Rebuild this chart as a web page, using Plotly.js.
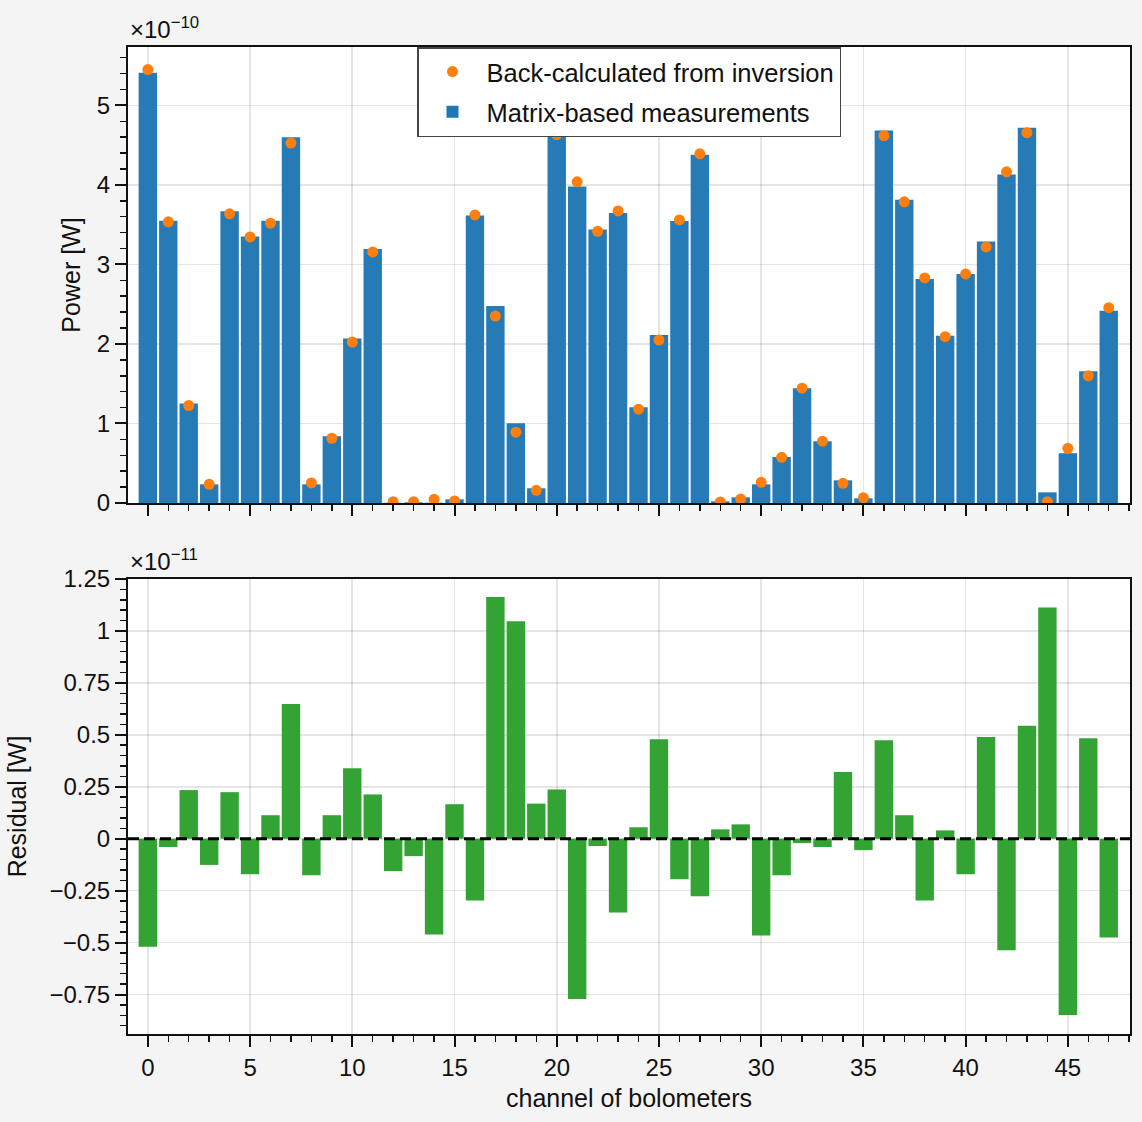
<!DOCTYPE html>
<html>
<head>
<meta charset="utf-8">
<script src="https://cdn.plot.ly/plotly-3.0.1.min.js"></script>
<style>
  html, body { margin: 0; padding: 0; background: #f4f4f4; }
  #chart { width: 1142px; height: 1122px; }
</style>
</head>
<body>
<div id="chart"></div>
<script>
// Bolometer channel indices
const channels = [0, 1, 2, 3, 4, 5, 6, 7, 8, 9, 10, 11, 12, 13, 14, 15,
                  16, 17, 18, 19, 20, 21, 22, 23, 24, 25, 26, 27, 28, 29, 30, 31,
                  32, 33, 34, 35, 36, 37, 38, 39, 40, 41, 42, 43, 44, 45, 46, 47];

// Matrix-based measured power, in units of 1e-10 W
const measuredPower = [5.41, 3.55, 1.25, 0.235, 3.67, 3.35, 3.55, 4.60, 0.235, 0.84, 2.07, 3.195,
                       0.003, 0.009, 0.004, 0.046, 3.615, 2.477, 1.003, 0.185, 4.673, 3.98, 3.438, 3.648,
                       1.205, 2.112, 3.547, 4.379, 0.021, 0.071, 0.235, 0.579, 1.444, 0.777, 0.285, 0.059,
                       4.685, 3.812, 2.817, 2.103, 2.88, 3.287, 4.131, 4.719, 0.134, 0.626, 1.658, 2.418];

// Power back-calculated from the inversion, in units of 1e-10 W
const backCalculated = [5.45, 3.535, 1.226, 0.235, 3.636, 3.346, 3.518, 4.526, 0.252, 0.814, 2.024, 3.157,
                        0.017, 0.017, 0.046, 0.025, 3.623, 2.351, 0.89, 0.16, 4.631, 4.039, 3.417, 3.673,
                        1.18, 2.049, 3.56, 4.391, 0.013, 0.05, 0.26, 0.575, 1.444, 0.777, 0.248, 0.067,
                        4.618, 3.787, 2.83, 2.091, 2.88, 3.22, 4.165, 4.656, 0.017, 0.688, 1.6, 2.456];

// Residual (measured − back-calculated), in units of 1e-11 W
const residual = [-0.52, -0.04, 0.234, -0.126, 0.224, -0.171, 0.113, 0.648, -0.176, 0.113, 0.339, 0.213,
                  -0.156, -0.084, -0.461, 0.166, -0.297, 1.163, 1.047, 0.169, 0.237, -0.771, -0.035, -0.355,
                  0.055, 0.479, -0.195, -0.277, 0.045, 0.069, -0.466, -0.176, -0.021, -0.04, 0.321, -0.055,
                  0.474, 0.113, -0.297, 0.04, -0.171, 0.489, -0.537, 0.544, 1.113, -0.848, 0.484, -0.476];

const powerExponent = -10;
const residualExponent = -11;

const FONT = 'Liberation Sans, Arial, Helvetica, sans-serif';
const INK = '#111111';
const GRID = 'rgba(0,0,0,0.1)';

const traces = [
  {
    type: 'bar', x: channels, y: measuredPower, xaxis: 'x', yaxis: 'y',
    name: 'Matrix-based measurements', legendrank: 2, legendgroup: 'measured',
    marker: { color: '#1f77b4', opacity: 0.97, line: { width: 0 } },
    hoverinfo: 'x+y'
  },
  {
    type: 'scatter', mode: 'markers', x: channels, y: backCalculated, xaxis: 'x', yaxis: 'y',
    name: 'Back-calculated from inversion', legendrank: 1, legendgroup: 'inversion',
    marker: { color: '#ff7f0e', size: 11 },
    hoverinfo: 'x+y'
  },
  {
    type: 'bar', x: channels, y: residual, xaxis: 'x2', yaxis: 'y2',
    name: 'Residual', showlegend: false,
    marker: { color: '#2ca02c', opacity: 0.97, line: { width: 0 } },
    hoverinfo: 'x+y'
  }
];

const baseX = {
  range: [-0.97, 48.04],
  tick0: 0, dtick: 5,
  ticks: 'outside', ticklen: 11, tickwidth: 2, tickcolor: INK,
  showgrid: true, gridcolor: GRID, gridwidth: 1.6,
  showline: true, linecolor: INK, linewidth: 2, mirror: true,
  zeroline: false,
  minor: { ticks: 'outside', tick0: 0, dtick: 1, ticklen: 6, tickwidth: 1.5, tickcolor: INK, showgrid: false },
  tickfont: { family: FONT, size: 24, color: INK }
};

const baseY = {
  ticks: 'outside', ticklen: 11, tickwidth: 2, tickcolor: INK,
  showgrid: true, gridcolor: GRID, gridwidth: 1.6,
  showline: true, linecolor: INK, linewidth: 2, mirror: true,
  zeroline: false,
  tickfont: { family: FONT, size: 24, color: INK }
};

const layout = {
  width: 1142, height: 1122,
  paper_bgcolor: '#f4f4f4', plot_bgcolor: '#ffffff',
  margin: { l: 128, r: 12, t: 47, b: 88 },
  font: { family: FONT, size: 24, color: INK },
  bargap: 0.1,
  showlegend: true,
  legend: {
    x: 0.5, xanchor: 'center', y: 1, yanchor: 'top',
    bgcolor: '#ffffff', bordercolor: '#444444', borderwidth: 1.5,
    font: { family: FONT, size: 25.5, color: INK },
    traceorder: 'grouped', tracegroupgap: 4, itemwidth: 58
  },
  xaxis: Object.assign({}, baseX, { anchor: 'y', domain: [0, 1], showticklabels: false }),
  xaxis2: Object.assign({}, baseX, {
    anchor: 'y2', domain: [0, 1], showticklabels: true,
    title: { text: 'channel of bolometers', font: { family: FONT, size: 25, color: INK }, standoff: 10 }
  }),
  yaxis: Object.assign({}, baseY, {
    anchor: 'x', domain: [0.538, 1], range: [0, 5.734], tick0: 0, dtick: 1,
    minor: { ticks: 'outside', tick0: 0, dtick: 0.2, ticklen: 6, tickwidth: 1.5, tickcolor: INK, showgrid: false },
    title: { text: 'Power [W]', font: { family: FONT, size: 25, color: INK }, standoff: 9 }
  }),
  yaxis2: Object.assign({}, baseY, {
    anchor: 'x2', domain: [0, 0.461], range: [-0.94, 1.25], tick0: 0, dtick: 0.25,
    minor: { ticks: 'outside', tick0: 0, dtick: 0.05, ticklen: 6, tickwidth: 1.5, tickcolor: INK, showgrid: false },
    title: { text: 'Residual [W]', font: { family: FONT, size: 25, color: INK }, standoff: 16 }
  }),
  shapes: [
    // zero reference for the residuals
    { type: 'line', xref: 'x2 domain', x0: 0, x1: 1, yref: 'y2', y0: 0, y1: 0,
      line: { color: '#000000', width: 3, dash: '11px,5px' }, layer: 'above' }
  ],
  annotations: [
    { xref: 'paper', yref: 'paper', x: 0, y: 1, xanchor: 'left', yanchor: 'bottom', yshift: 2,
      text: '×10<sup>' + String(powerExponent).replace('-', '−') + '</sup>', showarrow: false,
      font: { family: FONT, size: 24, color: INK } },
    { xref: 'paper', yref: 'paper', x: 0, y: 0.461, xanchor: 'left', yanchor: 'bottom', yshift: 2,
      text: '×10<sup>' + String(residualExponent).replace('-', '−') + '</sup>', showarrow: false,
      font: { family: FONT, size: 24, color: INK } }
  ]
};

Plotly.newPlot('chart', traces, layout, { displayModeBar: false, staticPlot: true });
</script>
</body>
</html>
